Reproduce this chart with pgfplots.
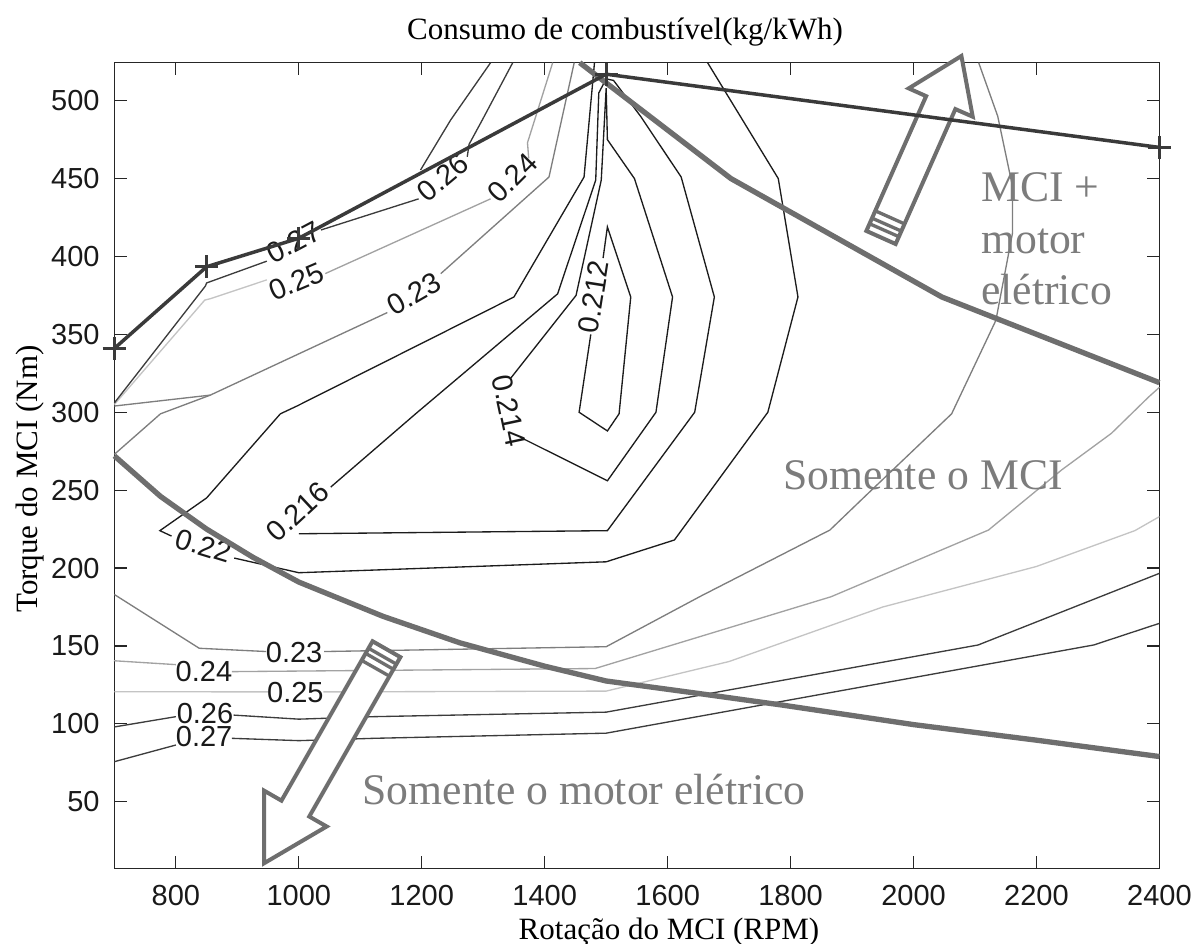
\documentclass[border=0pt]{standalone}
\usepackage{fontspec}
\setmainfont{Liberation Serif}
\setsansfont{Liberation Sans}
\usepackage{pgfplots}
\pgfplotsset{compat=1.18}
\definecolor{cdark}{HTML}{1C1C1C}
\definecolor{c23}{HTML}{7E7E7E}
\definecolor{c24}{HTML}{A2A2A2}
\definecolor{c25}{HTML}{C4C4C4}
\definecolor{c26}{HTML}{3C3C3C}
\definecolor{maxtq}{HTML}{3A3A3A}
\definecolor{thickg}{HTML}{6E6E6E}
\definecolor{regtxt}{HTML}{7C7C7C}
\newcommand\tkfont{\sffamily\fontsize{8.7}{10}\selectfont}
\newcommand\lbfont{\rmfamily\fontsize{9.3}{11}\selectfont}
\newcommand\rgfont{\rmfamily\fontsize{13.1}{15}\selectfont}
\pgfplotsset{cl/.style={line width=0.4pt, no markers}}
\tikzset{lab/.style={font=\tkfont, text=black!90, inner sep=0pt},
  rg/.style={font=\rgfont, text=regtxt, inner sep=0pt, anchor=base west},
  arr/.style={draw=thickg, line width=1.2pt, fill=white, line join=miter},
  str/.style={draw=thickg, line width=1.0pt}}
\begin{document}
\begin{tikzpicture}
\useasboundingbox (-34.32pt,-22.71pt) rectangle (323.88pt,260.49pt);
\begin{axis}[
  at={(0pt,0pt)}, anchor=south west,
  scale only axis, width=313.5pt, height=241.68pt,
  xmin=700, xmax=2400, ymin=7.26, ymax=524.4,
  xtick={800,1000,1200,1400,1600,1800,2000,2200,2400},
  ytick={50,100,150,200,250,300,350,400,450,500},
  tick align=inside, tick pos=both,
  major tick length=3.7pt,
  tick style={line width=0.35pt, color=black!85},
  axis line style={line width=0.45pt, color=black!85},
  tick label style={font=\tkfont, text=black!90},
  xticklabel style={yshift=-1.6pt},
  yticklabel style={xshift=-0.9pt},
  /pgf/number format/assume math mode=true,
  /pgf/number format/1000 sep={},
  every axis title shift=0pt,
  title={Consumo de combustível(kg/kWh)},
  title style={font=\lbfont, at={(axis description cs:0.4886,1.0282)}, anchor=base, yshift=0pt},
  xlabel={Rotação do MCI (RPM)},
  xlabel style={font=\lbfont, at={(axis description cs:0.5307,-0.0878)}, anchor=base},
  ylabel={Torque do MCI (Nm)},
  ylabel style={font=\lbfont, at={(axis description cs:-0.0736,0.4832)}, anchor=base},
  clip=false,
]
% ---- contour 0.212
\addplot[cl, cdark] coordinates {(1495,399)(1502,419)(1540,374)(1521,299)(1502,288)(1456,300)(1475,350)};
% ---- contour 0.214
\addplot[cl, cdark] coordinates {(1345,322)(1451,375)(1492,449)(1500,508)(1502,475)(1546,450)(1608,374)(1581,300)(1502,256)(1360,284)};
% ---- contour 0.216
\addplot[cl, cdark] coordinates {(1052,252)(1190,299)(1421,376)(1483,449)(1488,505)(1500,514)(1512,513)(1556,490)(1622,451)(1676,374)(1644,300)(1502,224)(1000,222)};
% ---- contour 0.22
\addplot[cl, cdark] coordinates {(1665,524.4)(1780,450)(1812,374)(1763,300)(1611,218)(1500,204)(1000,197)(895,206.4)};
\addplot[cl, cdark] coordinates {(793,220.5)(774,224)(850,245)(970,299)(997,304)(1350,374)(1464,451)(1481,524.4)};
% ---- contour 0.23
\addplot[cl, c23] coordinates {(700,273)(775,299)(856,311)};
\addplot[cl, c23] coordinates {(700,304)(856,311)(1144,364)};
\addplot[cl, c23] coordinates {(1231,389)(1407,451)(1448,524.4)};
\addplot[cl, c23] coordinates {(700,183)(838,148.5)(947,146.4)};
\addplot[cl, c23] coordinates {(1041,146.4)(1500,149.5)(1654,182)(1864,224.4)(1921,246)(2062,299)(2134,359)(2161,415)(2161,445)(2137,490)(2106,524.4)};
% ---- contour 0.24
\addplot[cl, c24] coordinates {(1043,389)(1312,437)};
\addplot[cl, c24] coordinates {(1374,463)(1372,473)(1413,524.4)};
\addplot[cl, c24] coordinates {(699,140.5)(800,138)};
\addplot[cl, c24] coordinates {(891,133.5)(1482,135.5)(1866,181.6)(2122,224.4)(2241,263)(2322,286.5)(2383,310)(2400,316)};
% ---- contour 0.25
\addplot[cl, c25] coordinates {(700,305)(847,372)(857,373)(948,385)};
\addplot[cl, c25] coordinates {(700,120.6)(950,120.5)};
\addplot[cl, c25] coordinates {(1040,120.5)(1500,121)(1700,140)(1950,175)(2200,201)(2360,224)(2400,233)};
% ---- contour 0.26
\addplot[cl, c26] coordinates {(1036,417)(1195,437)};
\addplot[cl, c26] coordinates {(1274,464)(1277,472)(1299,488)(1348,524.4)};
\addplot[cl, c26] coordinates {(700,98)(800,104.6)};
\addplot[cl, c26] coordinates {(894,105.6)(1000,103)(1122,104.6)(1500,107.5)(2105,150.6)(2400,196.6)};
% ---- contour 0.27
\addplot[cl, c26] coordinates {(700,306)(848,381)(850,383)(948,397)};
\addplot[cl, c26] coordinates {(1198,455.5)(1247,487.6)(1312,524.4)};
\addplot[cl, c26] coordinates {(700,75.7)(800,86.4)};
\addplot[cl, c26] coordinates {(891,90.7)(1000,89.2)(1122,90.7)(1500,94)(2293,150.6)(2400,164.5)};
% ---- contour labels
\node[lab, rotate=81] at (axis cs:1479.5,374.2) {0.212};
\node[lab, rotate=-78] at (axis cs:1342,301) {0.214};
\node[lab, rotate=43] at (axis cs:997.8,236.2) {0.216};
\node[lab, rotate=-17] at (axis cs:845,214.3) {0.22};
\node[lab, rotate=30] at (axis cs:1187.2,375.8) {0.23};
\node[lab, rotate=45] at (axis cs:1347.6,450.7) {0.24};
\node[lab, rotate=23] at (axis cs:995.7,383.8) {0.25};
\node[lab, rotate=40] at (axis cs:1234.8,450.7) {0.26};
\node[lab, rotate=28] at (axis cs:991.6,409) {0.27};
\node[lab] at (axis cs:992.4,145.8) {0.23};
\node[lab] at (axis cs:845.7,133.5) {0.24};
\node[lab] at (axis cs:994.4,120) {0.25};
\node[lab] at (axis cs:847.4,106.8) {0.26};
\node[lab] at (axis cs:846,91.8) {0.27};
% ---- region arrows
\draw[arr] (axis cs:2077.9,528.7) -- (axis cs:2096.3,489.7) -- (axis cs:2068.1,494.6) -- (axis cs:1970.9,408.0) -- (axis cs:1923.3,416.4) -- (axis cs:2020.5,502.9) -- (axis cs:1992.2,507.9) -- cycle;
\draw[str] (axis cs:1976.2,412.7) -- (axis cs:1928.6,421.0);
\draw[str] (axis cs:1980.1,416.3) -- (axis cs:1932.5,424.6);
\draw[str] (axis cs:1985.4,420.9) -- (axis cs:1937.8,429.3);
\draw[arr] (axis cs:943.5,10.5) -- (axis cs:1045.3,34.1) -- (axis cs:1017.0,40.5) -- (axis cs:1165.2,142.8) -- (axis cs:1120.0,153.0) -- (axis cs:971.8,50.7) -- (axis cs:943.5,57.1) -- cycle;
\draw[str] (axis cs:1158.8,138.3) -- (axis cs:1113.6,148.5);
\draw[str] (axis cs:1153.9,135.0) -- (axis cs:1108.8,145.2);
\draw[str] (axis cs:1147.5,130.6) -- (axis cs:1102.3,140.7);
% ---- region texts
\node[rg] at (axis cs:1787.7,250.1) {Somente o MCI};
\node[rg] at (axis cs:1102.8,47.9) {Somente o motor elétrico};
\node[rg] at (axis cs:2109.0,435.2) {MCI +};
\node[rg] at (axis cs:2109.0,402.0) {motor};
\node[rg] at (axis cs:2109.0,368.9) {elétrico};
% ---- thick boundary lines
\addplot[thickg, line width=1.6pt, no markers] coordinates {(1457,524.4)(1703,450)(2046,374)(2400,319)};
\addplot[thickg, line width=1.6pt, no markers] coordinates {(700,272)(775,246)(850,225)(925,207)(1000,191)(1137,169)(1262,152)(1400,137)(1500,127.5)(1650,119.5)(1787,112)(2000,99.5)(2200,89.5)(2400,79)};
% ---- maximum torque curve
\addplot[maxtq, line width=1.05pt, mark=+, mark size=3.5pt, mark options={line width=1pt}] coordinates {(700,341)(850,393.4)(1000,411.7)(1500,517)(2400,470)};
\end{axis}
\end{tikzpicture}
\end{document}
